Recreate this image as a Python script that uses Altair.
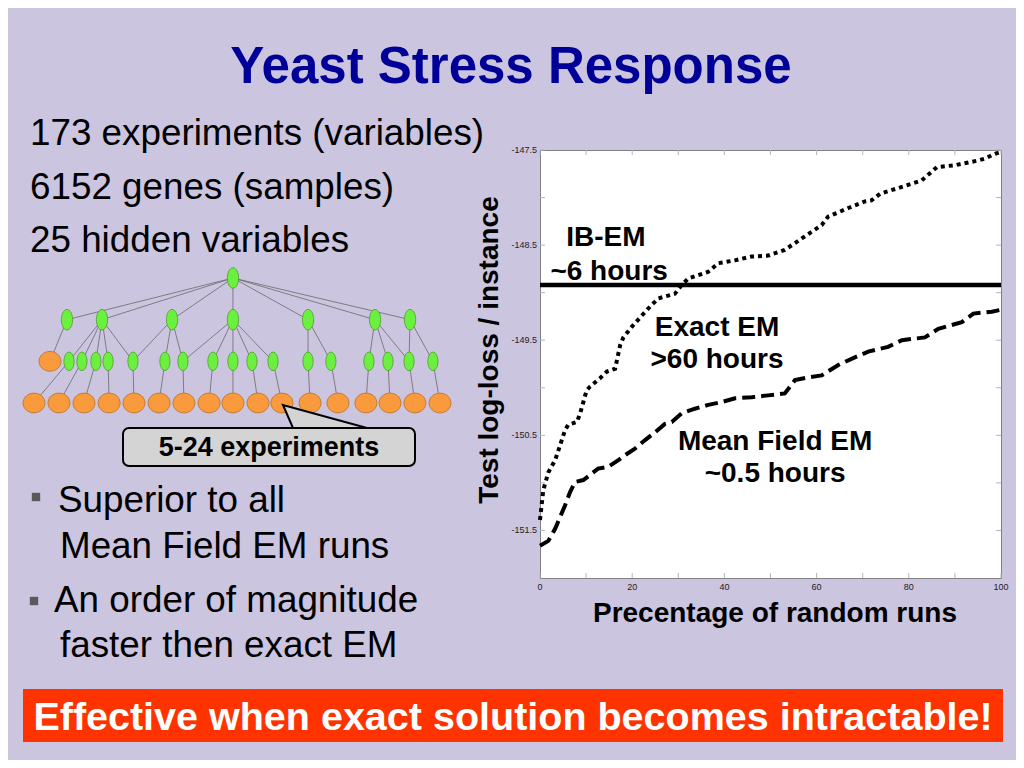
import altair as alt
import pandas as pd

# ---------------- data ----------------
exact_x = [0, 0.7, 1.8, 3.3, 5.4, 6.1, 8.0, 8.7, 10.1, 10.8, 13.0, 14.5, 16.3, 16.6, 17.4, 18.1,
           19.9, 22.1, 24.2, 25.7, 29.3, 30.7, 32.2, 36.5, 38.7, 42.3, 45.9, 49.5, 53.1, 56.8,
           61.1, 62.5, 66.9, 70.5, 71.9, 73.8, 77.7, 82.8, 84.2, 86.1, 90.0, 95.1, 96.5, 98.7, 100]
exact_y = [-151.39, -151.08, -150.89, -150.76, -150.45, -150.39, -150.36, -150.27, -150.03, -149.99,
           -149.90, -149.83, -149.80, -149.73, -149.55, -149.47, -149.36, -149.24, -149.13, -149.06,
           -149.01, -148.92, -148.85, -148.78, -148.69, -148.66, -148.62, -148.61, -148.55, -148.43,
           -148.29, -148.20, -148.11, -148.04, -148.03, -147.96, -147.90, -147.82, -147.76, -147.68,
           -147.66, -147.61, -147.59, -147.54, -147.52]

mf_x = [0, 1.8, 3.3, 5.4, 6.5, 7.6, 9.4, 12.6, 14.8, 17.0, 18.4, 20.6, 22.8, 24.9, 27.1, 28.6,
        30.7, 33.6, 36.5, 39.4, 42.3, 45.9, 49.5, 53.1, 55.3, 58.2, 61.1, 64.7, 68.3, 71.2, 75.5,
        78.5, 83.5, 86.4, 91.5, 94.0, 98.0, 100]
mf_y = [-151.66, -151.61, -151.48, -151.24, -151.10, -150.99, -150.97, -150.85, -150.83, -150.76,
        -150.71, -150.64, -150.55, -150.47, -150.38, -150.36, -150.27, -150.22, -150.18, -150.15,
        -150.11, -150.10, -150.08, -150.06, -149.92, -149.89, -149.87, -149.76, -149.68, -149.62,
        -149.57, -149.50, -149.47, -149.38, -149.31, -149.22, -149.20, -149.18]

ib_x = [0, 100]
ib_y = [-148.92, -148.92]

x_label_values = [0, 20, 40, 60, 80, 100]
y_label_values = [-151.5, -150.5, -149.5, -148.5, -147.5]
x_tick_values = [0, 10, 20, 30, 40, 50, 60, 70, 80, 90, 100]
y_tick_values = [-151.5, -151.0, -150.5, -150.0, -149.5, -149.0, -148.5, -148.0, -147.5]

ann_text = ["IB-EM", "~6 hours", "Exact EM", ">60 hours", "Mean Field EM", "~0.5 hours"]
ann_x = [14.3, 15.0, 38.4, 38.4, 51.0, 51.0]
ann_y = [-148.51, -148.87, -149.46, -149.79, -150.65, -150.99]

# hidden-variable tree (level, slot along the row)
node_level = [0] + [1] * 7 + [2] * 18 + [3] * 17
node_slot = [7.84,
             1.30, 2.68, 5.44, 7.84, 10.80, 13.44, 14.82,
             0.63, 1.38, 1.89, 2.44, 2.92, 3.90, 5.16, 5.87, 7.05, 7.84, 8.59, 9.42, 10.80,
             11.70, 13.20, 13.95, 14.78, 15.72,
             0, 0.985, 1.97, 2.96, 3.94, 4.93, 5.91, 6.90, 7.84, 8.83, 9.77, 10.88, 11.98,
             13.08, 14.03, 15.01, 16.0]
node_kind = ["hidden"] * 8 + ["observed"] + ["hidden"] * 17 + ["observed"] * 17
edge_parent = [0] * 7 + [1] + [2] * 5 + [3] * 3 + [4] * 5 + [5] * 2 + [6] * 3 + [7] * 2 + list(range(9, 26))
edge_child = ([1, 2, 3, 4, 5, 6, 7] + [8] + [9, 10, 11, 12, 13] + [13, 14, 15] + [15, 16, 17, 18, 19]
              + [20, 21] + [22, 23, 24] + [24, 25] + list(range(26, 43)))

title_text = "Yeast Stress Response"
facts = ["173 experiments (variables)", "6152 genes (samples)", "25 hidden variables"]
bullets = ["Superior to all", "Mean Field EM runs", "An order of magnitude", "faster then exact EM"]
banner_text = "Effective when exact solution becomes intractable!"
callout_text = "5-24 experiments"
x_title = "Precentage of random runs"
y_title = "Test log-loss / instance"

# ---------------- build ----------------
W, H = 461, 428
FONT = "Liberation Sans"
BG = "#CCC5E0"

df_exact = pd.DataFrame({"x": exact_x, "y": exact_y})
df_mf = pd.DataFrame({"x": mf_x, "y": mf_y})
df_ib = pd.DataFrame({"x": ib_x, "y": ib_y})
df_ann = pd.DataFrame({"t": ann_text, "x": ann_x, "y": ann_y})

xs = alt.Scale(domain=[0, 100], nice=False, zero=False)
ys = alt.Scale(domain=[-152, -147.5], nice=False, zero=False)


def X(field):
    return alt.X(field, scale=xs, axis=None)


def Y(field):
    return alt.Y(field, scale=ys, axis=None)


ib_line = alt.Chart(df_ib).mark_line(color="black", strokeWidth=4.5).encode(x=X("x:Q"), y=Y("y:Q"))
exact_line = alt.Chart(df_exact).mark_line(color="black", strokeWidth=4, strokeDash=[4, 4],
                                           strokeCap="butt").encode(x=X("x:Q"), y=Y("y:Q"))
mf_line = alt.Chart(df_mf).mark_line(color="black", strokeWidth=4, strokeDash=[13, 6],
                                     strokeCap="butt").encode(x=X("x:Q"), y=Y("y:Q"))
ann = alt.Chart(df_ann).mark_text(font=FONT, fontSize=28, fontWeight="bold", color="black",
                                  align="center", baseline="alphabetic").encode(
    x=X("x:Q"), y=Y("y:Q"), text="t:N")

# axis tick marks (inward, on all four sides) and tick labels
df_yt = pd.DataFrame({"v": y_tick_values})
df_xt = pd.DataFrame({"v": x_tick_values})
df_yl = pd.DataFrame({"v": y_label_values})
df_xl = pd.DataFrame({"v": x_label_values})
TICK = "#b5b5b5"
axis_layers = [
    alt.Chart(df_yt).mark_rule(color=TICK).encode(y=Y("v:Q"), x=alt.value(0), x2=alt.value(5)),
    alt.Chart(df_yt).mark_rule(color=TICK).encode(y=Y("v:Q"), x=alt.value(W - 5), x2=alt.value(W)),
    alt.Chart(df_xt).mark_rule(color=TICK).encode(x=X("v:Q"), y=alt.value(0), y2=alt.value(5)),
    alt.Chart(df_xt).mark_rule(color=TICK).encode(x=X("v:Q"), y=alt.value(H - 5), y2=alt.value(H)),
    alt.Chart(df_yl).transform_calculate(lab="'' + datum.v").mark_text(
        font=FONT, fontSize=9, color="#222", align="right", baseline="middle").encode(
        y=Y("v:Q"), x=alt.value(-3), text="lab:N"),
    alt.Chart(df_xl).transform_calculate(lab="'' + datum.v").mark_text(
        font=FONT, fontSize=9, color="#222", align="center", baseline="middle").encode(
        x=X("v:Q"), y=alt.value(H + 9), text="lab:N"),
]

main = alt.layer(*axis_layers, ib_line, exact_line, mf_line, ann)

# tree diagram
df_nodes = pd.DataFrame({"level": node_level, "slot": node_slot, "kind": node_kind})
df_edges = pd.DataFrame({
    "x": [node_slot[p] for p in edge_parent], "y": [node_level[p] for p in edge_parent],
    "x2": [node_slot[c] for c in edge_child], "y2": [node_level[c] for c in edge_child]})
txs = alt.Scale(domain=[0, 16], range=[34 - 540, 440 - 540], nice=False, zero=False)
tys = alt.Scale(domain=[0, 3], range=[278 - 150, 403 - 150], nice=False, zero=False)

edges = alt.Chart(df_edges).mark_rule(color="#6a6a6a", strokeWidth=0.8).encode(
    x=alt.X("x:Q", scale=txs, axis=None), y=alt.Y("y:Q", scale=tys, axis=None),
    x2="x2:Q", y2="y2:Q")
ELLIPSE = "M0,-1A0.55,1,0,1,1,0,1A0.55,1,0,1,1,0,-1Z"
OVAL = "M-1,0A1,0.9,0,1,1,1,0A1,0.9,0,1,1,-1,0Z"
TX = alt.X("slot:Q", scale=txs, axis=None)
TY = alt.Y("level:Q", scale=tys, axis=None)
obs_nodes = alt.Chart(df_nodes).transform_filter("datum.kind == 'observed'").mark_point(
    shape=OVAL, size=484, filled=True, fill="#F99B3D", stroke="#B8702A", strokeWidth=0.8,
    opacity=1).encode(x=TX, y=TY)
top_nodes = alt.Chart(df_nodes).transform_filter("datum.kind == 'hidden' && datum.level < 2").mark_point(
    shape=ELLIPSE, size=420, filled=True, fill="#6CF040", stroke="#4C9A2A", strokeWidth=0.8,
    opacity=1).encode(x=TX, y=TY)
low_nodes = alt.Chart(df_nodes).transform_filter("datum.kind == 'hidden' && datum.level == 2").mark_point(
    shape=ELLIPSE, size=340, filled=True, fill="#6CF040", stroke="#4C9A2A", strokeWidth=0.8,
    opacity=1).encode(x=TX, y=TY)
tree = alt.layer(edges, obs_nodes, top_nodes, low_nodes)


def text_at(txt, x, y, **kw):
    style = dict(font=FONT, color="black", align="left", baseline="alphabetic")
    style.update(kw)
    return alt.Chart(pd.DataFrame({"t": [txt]})).mark_text(**style).encode(
        x=alt.value(x), y=alt.value(y), text="t:N")


def rect_at(x, x2, y, y2, **kw):
    return alt.Chart(pd.DataFrame({"t": [0]})).mark_rect(**kw).encode(
        x=alt.value(x), x2=alt.value(x2), y=alt.value(y), y2=alt.value(y2))


def point_at(x, y, **kw):
    return alt.Chart(pd.DataFrame({"t": [0]})).mark_point(**kw).encode(
        x=alt.value(x), y=alt.value(y))


BODY = 36.8
slide = [
    text_at(title_text, -29, -67, fontSize=51, fontWeight="bold", color="#000099", align="center"),
    text_at(facts[0], -510, -5, fontSize=BODY),
    text_at(facts[1], -510, 49, fontSize=BODY),
    text_at(facts[2], -510, 102, fontSize=BODY),
    point_at(-504, 347, shape="square", size=70, filled=True, color="#5a5a5a", opacity=1),
    text_at(bullets[0], -482, 362, fontSize=BODY),
    text_at(bullets[1], -480, 408, fontSize=BODY),
    point_at(-506, 451, shape="square", size=70, filled=True, color="#5a5a5a", opacity=1),
    text_at(bullets[2], -486, 462, fontSize=BODY),
    text_at(bullets[3], -480, 507, fontSize=BODY),
    rect_at(-517, 463, 539, 592, color="#FF3300"),
    text_at(banner_text, -27, 580, fontSize=39.5, fontWeight="bold", color="white", align="center"),
    rect_at(-417, -125, 278, 316, fill="#D4D4D4", stroke="black", strokeWidth=2, cornerRadius=6),
    point_at(-215, 266.5, shape="M-1,-0.274L-0.762,0.274L1,0.274Z", size=7056, filled=True,
             fill="#D4D4D4", stroke="black", strokeWidth=2, opacity=1),
    text_at(callout_text, -271, 306, fontSize=27, fontWeight="bold", align="center"),
    text_at(y_title, -50, 200, fontSize=28, fontWeight="bold", align="center", baseline="middle",
            angle=270),
    text_at(x_title, 235, 472, fontSize=28, fontWeight="bold", align="center"),
]

chart = alt.layer(main, tree, *slide).resolve_scale(x="independent", y="independent").properties(
    width=W, height=H,
    autosize=alt.AutoSizeParams(type="none"),
    padding={"left": 532, "top": 142, "right": 15, "bottom": 182},
    background=BG,
).configure_view(fill="white", stroke="#808080", strokeWidth=1)

chart.save("out.html", embed_options={"renderer": "svg", "actions": False})
